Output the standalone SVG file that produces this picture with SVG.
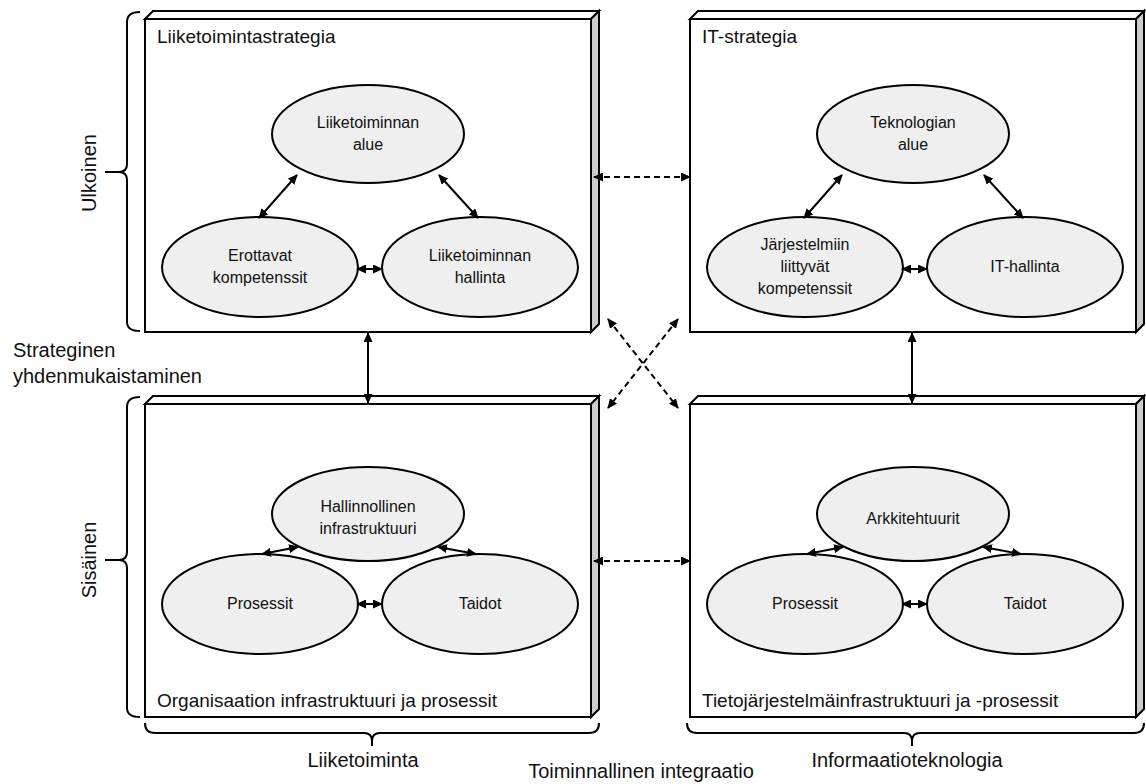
<svg xmlns="http://www.w3.org/2000/svg" width="1146" height="784" viewBox="0 0 1146 784">
  <style>
    .face { fill: #ffffff; stroke: #000; stroke-width: 2; stroke-linejoin: miter; }
    .side { fill: #cccccc; stroke: #000; stroke-width: 2; stroke-linejoin: miter; }
    .oval { fill: #efefef; stroke: #000; stroke-width: 2; }
    .brace { fill: none; stroke: #000; stroke-width: 2; }
    .solid { fill: none; stroke: #000; stroke-width: 2; marker-start: url(#arrow); marker-end: url(#arrow); }
    .dashed { fill: none; stroke: #000; stroke-width: 2; stroke-dasharray: 6 4; marker-start: url(#arrow); marker-end: url(#arrow); }
    text { font-family: "Liberation Sans", Arial, sans-serif; fill: #111; }
    .title { font-size: 19px; }
    .lbl { font-size: 16px; text-anchor: middle; }
    .side-lbl { font-size: 20px; }
  </style>
  <defs>
    <marker id="arrow" markerUnits="userSpaceOnUse" markerWidth="10" markerHeight="9" refX="9" refY="4.5" orient="auto-start-reverse">
      <path d="M0,0 L10,4.5 L0,9 z" fill="#000"/>
    </marker>
  </defs>

  <!-- Braces and axis labels -->
  <g id="axis-external">
    <path class="brace" d="M140,12 Q127,12 127,22 L127,164 Q127,172 119,172 L105,172 M119,172 Q127,172 127,180 L127,322 Q127,331 140,331"/>
    <text class="side-lbl" transform="translate(96,173) rotate(-90)" text-anchor="middle">Ulkoinen</text>
  </g>
  <g id="axis-internal">
    <path class="brace" d="M140,397 Q127,397 127,407 L127,552 Q127,560 119,560 L105,560 M119,560 Q127,560 127,568 L127,708 Q127,717 140,717"/>
    <text class="side-lbl" transform="translate(96,560) rotate(-90)" text-anchor="middle">Sisäinen</text>
  </g>
  <g id="axis-business">
    <path class="brace" d="M145,723 Q145,733 155,733 L364,733 Q372,733 372,741 L372,746 M372,741 Q372,733 380,733 L589,733 Q599,733 599,723"/>
    <text class="side-lbl" x="363" y="767" text-anchor="middle">Liiketoiminta</text>
  </g>
  <g id="axis-it">
    <path class="brace" d="M687,723 Q687,733 697,733 L904,733 Q912,733 912,741 L912,746 M912,741 Q912,733 920,733 L1134,733 Q1144,733 1144,723"/>
    <text class="side-lbl" x="907" y="767" text-anchor="middle">Informaatioteknologia</text>
  </g>
  <g id="label-alignment">
    <text class="side-lbl" x="13" y="357">Strateginen</text>
    <text class="side-lbl" x="13" y="383">yhdenmukaistaminen</text>
  </g>
  <g id="label-integration">
    <text x="641" y="778" font-size="20" text-anchor="middle">Toiminnallinen integraatio</text>
  </g>

  <!-- Business strategy box -->
  <g id="business-strategy">
    <polygon class="face" points="145,19 153,11 599,11 591,19"/>
    <polygon class="side" points="591,19 599,11 599,324 591,332"/>
    <rect class="face" x="145" y="19" width="446" height="313"/>
    <text class="title" x="157" y="43">Liiketoimintastrategia</text>
  </g>
  <g id="business-scope">
    <ellipse class="oval" cx="368" cy="134" rx="96" ry="49"/>
    <text class="lbl" x="368" y="128">Liiketoiminnan</text>
    <text class="lbl" x="368" y="150">alue</text>
  </g>
  <g id="distinctive-competencies">
    <ellipse class="oval" cx="260" cy="267" rx="98" ry="50"/>
    <text class="lbl" x="260" y="261">Erottavat</text>
    <text class="lbl" x="260" y="283">kompetenssit</text>
  </g>
  <g id="business-governance">
    <ellipse class="oval" cx="480" cy="267" rx="98" ry="50"/>
    <text class="lbl" x="480" y="261">Liiketoiminnan</text>
    <text class="lbl" x="480" y="283">hallinta</text>
  </g>

  <!-- IT strategy box -->
  <g id="it-strategy">
    <polygon class="face" points="690,19 698,11 1144,11 1136,19"/>
    <polygon class="side" points="1136,19 1144,11 1144,324 1136,332"/>
    <rect class="face" x="690" y="19" width="446" height="313"/>
    <text class="title" x="702" y="43">IT-strategia</text>
  </g>
  <g id="technology-scope">
    <ellipse class="oval" cx="913" cy="134" rx="96" ry="49"/>
    <text class="lbl" x="913" y="128">Teknologian</text>
    <text class="lbl" x="913" y="150">alue</text>
  </g>
  <g id="systemic-competencies">
    <ellipse class="oval" cx="805" cy="267" rx="98" ry="50"/>
    <text class="lbl" x="805" y="250">Järjestelmiin</text>
    <text class="lbl" x="805" y="272">liittyvät</text>
    <text class="lbl" x="805" y="294">kompetenssit</text>
  </g>
  <g id="it-governance">
    <ellipse class="oval" cx="1025" cy="267" rx="98" ry="50"/>
    <text class="lbl" x="1025" y="272">IT-hallinta</text>
  </g>

  <!-- Organisational infrastructure box -->
  <g id="org-infrastructure">
    <polygon class="face" points="145,404 153,396 599,396 591,404"/>
    <polygon class="side" points="591,404 599,396 599,709 591,717"/>
    <rect class="face" x="145" y="404" width="446" height="313"/>
    <text class="title" x="157" y="707">Organisaation infrastruktuuri ja prosessit</text>
  </g>
  <g id="admin-infrastructure">
    <ellipse class="oval" cx="368" cy="514" rx="96" ry="47"/>
    <text class="lbl" x="368" y="512">Hallinnollinen</text>
    <text class="lbl" x="368" y="534">infrastruktuuri</text>
  </g>
  <g id="org-processes">
    <ellipse class="oval" cx="260" cy="604" rx="98" ry="50"/>
    <text class="lbl" x="260" y="609">Prosessit</text>
  </g>
  <g id="org-skills">
    <ellipse class="oval" cx="480" cy="604" rx="98" ry="50"/>
    <text class="lbl" x="480" y="609">Taidot</text>
  </g>

  <!-- IS infrastructure box -->
  <g id="is-infrastructure">
    <polygon class="face" points="690,404 698,396 1144,396 1136,404"/>
    <polygon class="side" points="1136,404 1144,396 1144,709 1136,717"/>
    <rect class="face" x="690" y="404" width="446" height="313"/>
    <text class="title" x="702" y="707">Tietojärjestelmäinfrastruktuuri ja -prosessit</text>
  </g>
  <g id="architectures">
    <ellipse class="oval" cx="913" cy="514" rx="96" ry="47"/>
    <text class="lbl" x="913" y="524">Arkkitehtuurit</text>
  </g>
  <g id="is-processes">
    <ellipse class="oval" cx="805" cy="604" rx="98" ry="50"/>
    <text class="lbl" x="805" y="609">Prosessit</text>
  </g>
  <g id="is-skills">
    <ellipse class="oval" cx="1025" cy="604" rx="98" ry="50"/>
    <text class="lbl" x="1025" y="609">Taidot</text>
  </g>

  <!-- Connectors -->
  <g id="connectors">
    <!-- inside business strategy -->
    <line class="solid" x1="297" y1="175" x2="259" y2="218"/>
    <line class="solid" x1="439" y1="175" x2="478" y2="218"/>
    <line class="solid" x1="357" y1="269" x2="382" y2="269"/>
    <!-- inside IT strategy -->
    <line class="solid" x1="842" y1="175" x2="804" y2="218"/>
    <line class="solid" x1="984" y1="175" x2="1023" y2="218"/>
    <line class="solid" x1="902" y1="269" x2="927" y2="269"/>
    <!-- inside organisational infrastructure -->
    <line class="solid" x1="298" y1="547" x2="262" y2="554"/>
    <line class="solid" x1="438" y1="547" x2="476" y2="554"/>
    <line class="solid" x1="357" y1="604" x2="382" y2="604"/>
    <!-- inside IS infrastructure -->
    <line class="solid" x1="843" y1="547" x2="807" y2="554"/>
    <line class="solid" x1="983" y1="547" x2="1021" y2="554"/>
    <line class="solid" x1="902" y1="604" x2="927" y2="604"/>
    <!-- between boxes -->
    <line class="solid" x1="368" y1="333" x2="368" y2="403"/>
    <line class="solid" x1="912" y1="333" x2="912" y2="403"/>
    <line class="dashed" x1="594" y1="177" x2="690" y2="177"/>
    <line class="dashed" x1="594" y1="561" x2="690" y2="561"/>
    <line class="dashed" x1="608" y1="319" x2="678" y2="408"/>
    <line class="dashed" x1="678" y1="319" x2="608" y2="408"/>
  </g>
</svg>
